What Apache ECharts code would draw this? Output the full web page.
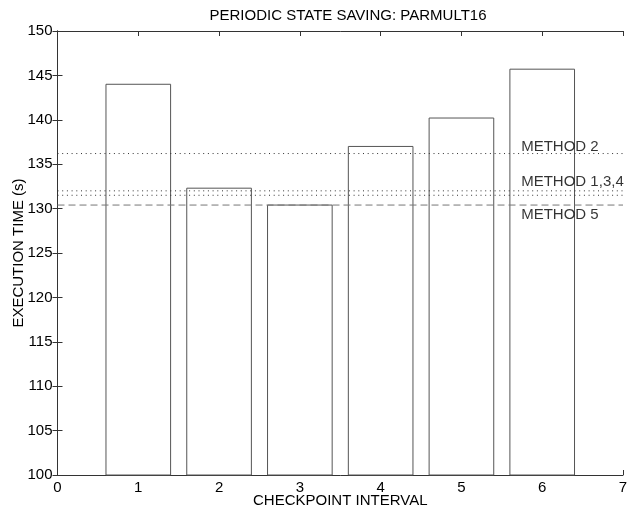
<!DOCTYPE html>
<html>
<head>
<meta charset="utf-8">
<script src="https://cdn.jsdelivr.net/npm/echarts@6/dist/echarts.min.js"></script>
<style>
  html, body { margin: 0; padding: 0; background: #fff; }
  #chart { width: 627px; height: 512px; }
</style>
</head>
<body>
<div id="chart"></div>
<script>
// Checkpoint intervals and measured execution times (seconds)
const intervals = [1, 2, 3, 4, 5, 6];
const execTimes = [144.0, 132.3, 130.4, 137.0, 140.2, 145.7];

// Reference levels for the alternative methods
const methodNames = ['METHOD 2', 'METHOD 1', 'METHOD 3,4', 'METHOD 5'];
const methodLevels = [136.2, 132.0, 131.5, 130.4];

// Text annotations next to the reference levels
const noteTexts = ['METHOD 2', 'METHOD 1,3,4', 'METHOD 5'];
const noteX = [5.74, 5.74, 5.74];
const noteY = [136.9, 133.0, 129.3];

const xTicks = [0, 1, 2, 3, 4, 5, 6, 7];
const yTicks = [100, 105, 110, 115, 120, 125, 130, 135, 140, 145, 150];

const barWidth = 0.8;
const FONT = 'Liberation Sans, Arial, sans-serif';
const FS = 15;

const chart = echarts.init(document.getElementById('chart'), null, { renderer: 'canvas' });

const frameColor = '#333';
const baseAxis = {
  type: 'value',
  axisLine: { show: true, lineStyle: { color: frameColor, width: 1 } },
  axisTick: { show: true, inside: true, length: 5, lineStyle: { color: frameColor } },
  splitLine: { show: false },
  axisLabel: { color: '#000', fontSize: FS, fontFamily: FONT }
};

function levelSeries(name, value, dash, color) {
  return {
    type: 'line',
    name: name,
    xAxisIndex: 0, yAxisIndex: 0,
    data: [[xTicks[0], value], [xTicks[xTicks.length - 1], value]],
    symbol: 'none',
    silent: true,
    z: 5,
    lineStyle: { color: color, width: 1, type: dash }
  };
}

const option = {
  backgroundColor: '#fff',
  animation: false,
  title: {
    text: 'PERIODIC STATE SAVING: PARMULT16',
    left: 343, top: 3, textAlign: 'center',
    textStyle: { color: '#000', fontSize: FS, fontWeight: 'normal', fontFamily: FONT }
  },
  grid: { left: 57.5, right: 4, top: 31, bottom: 37, outerBoundsMode: 'none', containLabel: false },
  xAxis: [
    Object.assign({}, baseAxis, {
      position: 'bottom',
      min: xTicks[0], max: xTicks[xTicks.length - 1], interval: 1,
      name: 'CHECKPOINT INTERVAL', nameLocation: 'middle', nameGap: 18,
      nameMoveOverlap: false,
      nameTextStyle: { color: '#000', fontSize: FS, fontFamily: FONT },
      axisLabel: Object.assign({}, baseAxis.axisLabel, { margin: 5 })
    }),
    Object.assign({}, baseAxis, {
      position: 'top',
      min: xTicks[0], max: xTicks[xTicks.length - 1], interval: 1,
      axisLabel: { show: false }
    })
  ],
  yAxis: [
    Object.assign({}, baseAxis, {
      position: 'left',
      min: yTicks[0], max: yTicks[yTicks.length - 1], interval: 5,
      name: 'EXECUTION TIME (s)', nameLocation: 'middle', nameGap: 31,
      nameMoveOverlap: false,
      nameTextStyle: { color: '#000', fontSize: FS, fontFamily: FONT },
      axisLabel: Object.assign({}, baseAxis.axisLabel, { margin: 5 })
    }),
    Object.assign({}, baseAxis, {
      position: 'right',
      min: yTicks[0], max: yTicks[yTicks.length - 1], interval: 5,
      axisLabel: { show: false }
    })
  ],
  series: [
    {
      type: 'custom',
      name: 'bars',
      xAxisIndex: 0, yAxisIndex: 0,
      data: intervals.map((x, i) => [x, execTimes[i]]),
      z: 3,
      renderItem: function (params, api) {
        const x = api.value(0);
        const v = api.value(1);
        const p0 = api.coord([x - barWidth / 2, v]);
        const p1 = api.coord([x + barWidth / 2, yTicks[0]]);
        return {
          type: 'rect',
          shape: { x: p0[0], y: p0[1], width: p1[0] - p0[0], height: p1[1] - p0[1] },
          style: { fill: '#fff', stroke: '#555', lineWidth: 1 }
        };
      }
    },
    levelSeries(methodNames[0], methodLevels[0], [1, 3.7], '#333'),
    levelSeries(methodNames[1], methodLevels[1], [1, 3.7], '#333'),
    levelSeries(methodNames[2], methodLevels[2], [1, 3.7], '#333'),
    levelSeries(methodNames[3], methodLevels[3], [7, 4], '#777'),
    {
      type: 'scatter',
      name: 'notes',
      xAxisIndex: 0, yAxisIndex: 0,
      symbolSize: 0,
      silent: true,
      z: 6,
      data: noteTexts.map((t, i) => ({ value: [noteX[i], noteY[i]], name: t })),
      label: {
        show: true, position: 'right', distance: 0,
        formatter: p => p.name,
        color: '#000', fontSize: FS, fontFamily: FONT
      }
    }
  ]
};

chart.setOption(option);
</script>
</body>
</html>
